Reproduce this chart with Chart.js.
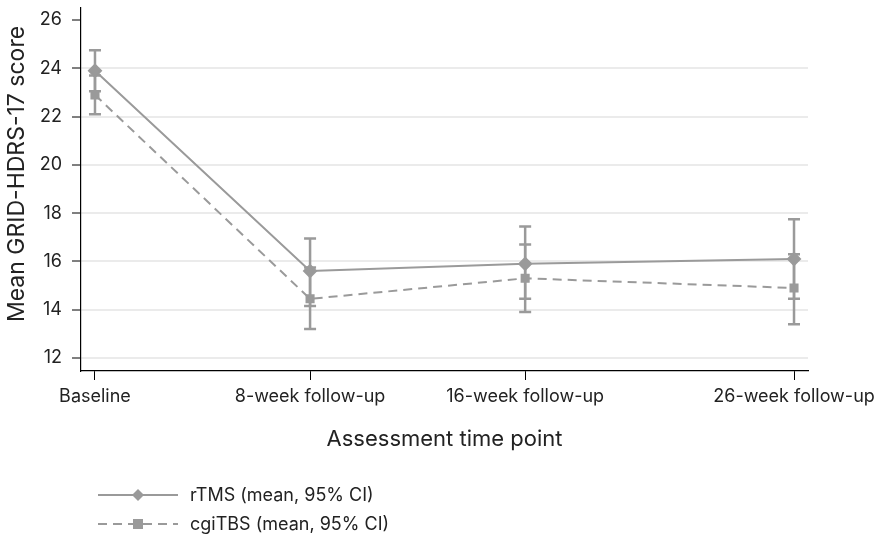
<!DOCTYPE html>
<html><head><meta charset="utf-8">
<script src="https://cdn.jsdelivr.net/npm/chart.js@4.4.1/dist/chart.umd.min.js"></script>
<style>
html,body{margin:0;padding:0;background:#fff;}
#wrap{position:relative;width:889px;height:540px;}
#legend{position:absolute;left:98px;top:480px;font-family:"Inter","Liberation Sans",sans-serif;font-size:18px;color:#222;}
.row{display:flex;align-items:center;height:29px;}
.row svg{margin-right:12px;}
</style></head>
<body>
<div id="wrap"><canvas id="c" width="889" height="540"></canvas>
<div id="legend">
<div class="row"><svg width="80" height="14"><line x1="0" y1="7" x2="80" y2="7" stroke="#9a9a9a" stroke-width="2"/><polygon points="40,1 46,7 40,13 34,7" fill="#9a9a9a"/></svg><span>rTMS (mean, 95% CI)</span></div>
<div class="row"><svg width="80" height="14"><line x1="0" y1="7" x2="80" y2="7" stroke="#9a9a9a" stroke-width="2" stroke-dasharray="9,6"/><rect x="35" y="2" width="10" height="10" fill="#9a9a9a"/></svg><span>cgiTBS (mean, 95% CI)</span></div>
</div></div>
<script>
const categories = ["Baseline", "8-week follow-up", "16-week follow-up", "26-week follow-up"];
const weeks = [0, 8, 16, 26];
const rtmsMean = [23.9, 15.6, 15.9, 16.1];
const rtmsLow = [23.05, 14.15, 14.45, 14.45];
const rtmsHigh = [24.75, 16.95, 17.45, 17.75];
const cgiMean = [22.9, 14.45, 15.3, 14.9];
const cgiLow = [22.1, 13.2, 13.9, 13.4];
const cgiHigh = [23.7, 15.75, 16.7, 16.3];
const yTicks = [12, 14, 16, 18, 20, 22, 24, 26];
const yTitle = 'Mean GRID-HDRS-17 score';

const grey = '#9a9a9a';
const fam = '"Inter","Liberation Sans",sans-serif';

const errorBars = {
  id: 'errorBars',
  beforeDatasetsDraw(chart) {
    const ctx = chart.ctx, x = chart.scales.x, y = chart.scales.y;
    ctx.save();
    ctx.strokeStyle = grey;
    ctx.lineWidth = 2.5;
    const draw = (lo, hi) => {
      weeks.forEach((w, i) => {
        const px = x.getPixelForValue(w);
        const y1 = y.getPixelForValue(lo[i]), y2 = y.getPixelForValue(hi[i]);
        ctx.beginPath();
        ctx.moveTo(px, y1); ctx.lineTo(px, y2);
        ctx.moveTo(px - 6, y1); ctx.lineTo(px + 6, y1);
        ctx.moveTo(px - 6, y2); ctx.lineTo(px + 6, y2);
        ctx.stroke();
      });
    };
    draw(rtmsLow, rtmsHigh);
    draw(cgiLow, cgiHigh);
    ctx.restore();
  }
};

const yTitlePlugin = {
  id: 'yTitlePlugin',
  afterDraw(chart) {
    const ctx = chart.ctx;
    ctx.save();
    ctx.translate(17, 174);
    ctx.rotate(-Math.PI / 2);
    ctx.font = '23px ' + fam;
    ctx.fillStyle = '#222';
    ctx.textAlign = 'center';
    ctx.textBaseline = 'middle';
    ctx.fillText(yTitle, 0, 0);
    ctx.restore();
  }
};

new Chart(document.getElementById('c'), {
  type: 'line',
  data: {
    datasets: [
      {label: 'rTMS (mean, 95% CI)', data: weeks.map((w, i) => ({x: w, y: rtmsMean[i]})),
       borderColor: grey, backgroundColor: grey, borderWidth: 2, pointStyle: 'rectRot', pointRadius: 6, pointHoverRadius: 6, tension: 0},
      {label: 'cgiTBS (mean, 95% CI)', data: weeks.map((w, i) => ({x: w, y: cgiMean[i]})),
       borderColor: grey, backgroundColor: grey, borderWidth: 2, borderDash: [9, 6], pointStyle: 'rect', pointRadius: 5, pointHoverRadius: 5, tension: 0}
    ]
  },
  options: {
    responsive: false, animation: false,
    layout: {padding: {left: 0, top: 8, right: 81, bottom: 79}},
    plugins: {legend: {display: false}, tooltip: {enabled: false}},
    scales: {
      x: {
        type: 'linear', min: -0.52, max: 26.52,
        afterBuildTicks: s => { s.ticks = weeks.map(v => ({value: v})); },
        afterFit: s => { s.height = 90; s.paddingLeft = 0; s.paddingRight = 0; },
        ticks: {callback: v => categories[weeks.indexOf(v)], font: {family: fam, size: 18}, color: '#222', padding: 6, maxRotation: 0, autoSkip: false},
        grid: {drawOnChartArea: false, drawTicks: true, tickLength: 9, tickColor: '#000', tickWidth: 1},
        border: {color: '#000', width: 1.2},
        title: {display: true, text: 'Assessment time point', font: {family: fam, size: 22}, color: '#222', padding: {top: 4, bottom: 8}}
      },
      y: {
        min: 11.46, max: 26.5,
        afterBuildTicks: s => { s.ticks = yTicks.map(v => ({value: v})); },
        afterFit: s => { s.width = 81; s.paddingTop = 0; s.paddingBottom = 0; },
        ticks: {font: {family: fam, size: 18}, color: '#222', padding: 10},
        grid: {color: c => c.tick && c.tick.value === 26 ? 'rgba(0,0,0,0)' : '#ebebeb', lineWidth: 2, tickLength: 9, tickColor: '#000', tickWidth: 1},
        border: {color: '#000', width: 1.2}
      }
    }
  },
  plugins: [errorBars, yTitlePlugin]
});
</script>
</body></html>
